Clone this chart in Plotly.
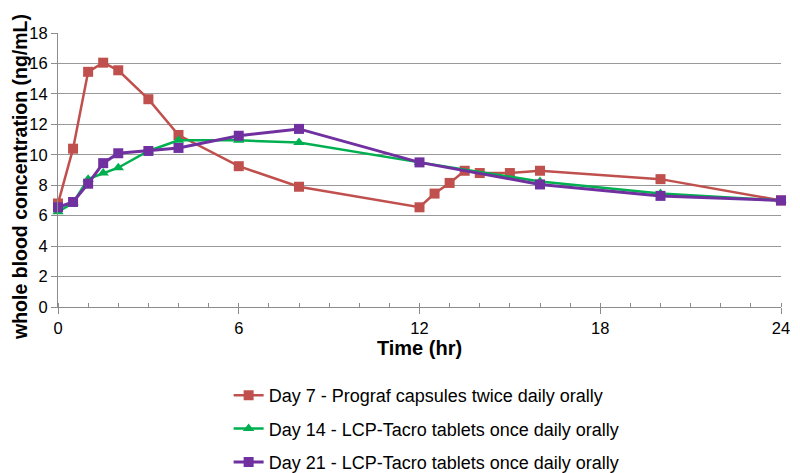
import plotly.graph_objects as go

# Time points (hr)
t_day7 = [0, 0.5, 1, 1.5, 2, 3, 4, 6, 8, 12, 12.5, 13, 13.5, 14, 15, 16, 20, 24]
c_day7 = [6.8, 10.4, 15.45, 16.05, 15.55, 13.65, 11.3, 9.25, 7.9, 6.55, 7.45, 8.15, 8.95, 8.8, 8.8, 8.95, 8.4, 7.0]

t_day14 = [0, 0.5, 1, 1.5, 2, 3, 4, 6, 8, 12, 16, 20, 24]
c_day14 = [6.25, 6.85, 8.4, 8.8, 9.15, 10.25, 10.95, 10.95, 10.8, 9.5, 8.25, 7.45, 7.0]

t_day21 = [0, 0.5, 1, 1.5, 2, 3, 4, 6, 8, 12, 16, 20, 24]
c_day21 = [6.55, 6.9, 8.1, 9.45, 10.1, 10.25, 10.45, 11.25, 11.7, 9.5, 8.05, 7.3, 7.0]

names = [
    "Day 7 - Prograf capsules twice daily orally",
    "Day 14 - LCP-Tacro tablets once daily orally",
    "Day 21 - LCP-Tacro tablets once daily orally",
]
colors = ["#C0504D", "#00B050", "#7030A0"]
x_ticks = [0, 6, 12, 18, 24]
y_title = "whole blood concentration (ng/mL)"
x_title = "Time (hr)"

FONT = "Liberation Sans, Arial, Helvetica, sans-serif"

fig = go.Figure()
fig.add_trace(go.Scatter(
    x=t_day7, y=c_day7, mode="lines+markers", name=names[0], legendgroup="a",
    line=dict(color=colors[0], width=2.5),
    marker=dict(symbol="square", size=10, color=colors[0]),
    cliponaxis=False,
))
fig.add_trace(go.Scatter(
    x=t_day14, y=c_day14, mode="lines+markers", name=names[1], legendgroup="b",
    line=dict(color=colors[1], width=2.5),
    marker=dict(symbol="triangle-up", size=10, color=colors[1]),
    cliponaxis=False,
))
fig.add_trace(go.Scatter(
    x=t_day21, y=c_day21, mode="lines+markers", name=names[2], legendgroup="c",
    line=dict(color=colors[2], width=3),
    marker=dict(symbol="square", size=10, color=colors[2]),
    cliponaxis=False,
))

fig.update_layout(
    width=800, height=473,
    margin=dict(l=50, r=27, t=25, b=174, autoexpand=False),
    paper_bgcolor="white", plot_bgcolor="white",
    font=dict(family=FONT, color="black", size=16),
    showlegend=True,
    legend=dict(
        x=0.236, xanchor="left", y=-0.2555, yanchor="top",
        font=dict(family=FONT, size=18, color="black"),
        tracegroupgap=7,
        bgcolor="rgba(0,0,0,0)",
    ),
)

fig.add_annotation(
    text="<b>" + y_title + "</b>", textangle=-90,
    xref="paper", yref="paper", x=-0.0526, y=0.4745,
    xanchor="center", yanchor="middle", showarrow=False,
    font=dict(family=FONT, size=19.5, color="black"),
    borderpad=0,
)

fig.update_xaxes(
    range=[0, 24], tickvals=x_ticks, ticktext=[str(v) for v in x_ticks],
    showgrid=False, zeroline=False, automargin=False,
    showline=True, linecolor="#8c8c8c", linewidth=1,
    ticks="outside", ticklen=6, tickcolor="#8c8c8c",
    tickfont=dict(size=16.5),
    minor=dict(dtick=1, ticks="inside", ticklen=4, tickcolor="#8c8c8c", showgrid=False),
    title=dict(text="<b>" + x_title + "</b>", font=dict(size=20), standoff=4),
)
fig.update_yaxes(
    range=[0, 18], dtick=2,
    showgrid=True, gridcolor="#999999", gridwidth=1,
    zeroline=False, automargin=False,
    showline=True, linecolor="#8c8c8c", linewidth=1,
    ticks="outside", ticklen=6, tickcolor="#8c8c8c",
    tickfont=dict(size=16.5),
)

fig.write_html("out.html")
